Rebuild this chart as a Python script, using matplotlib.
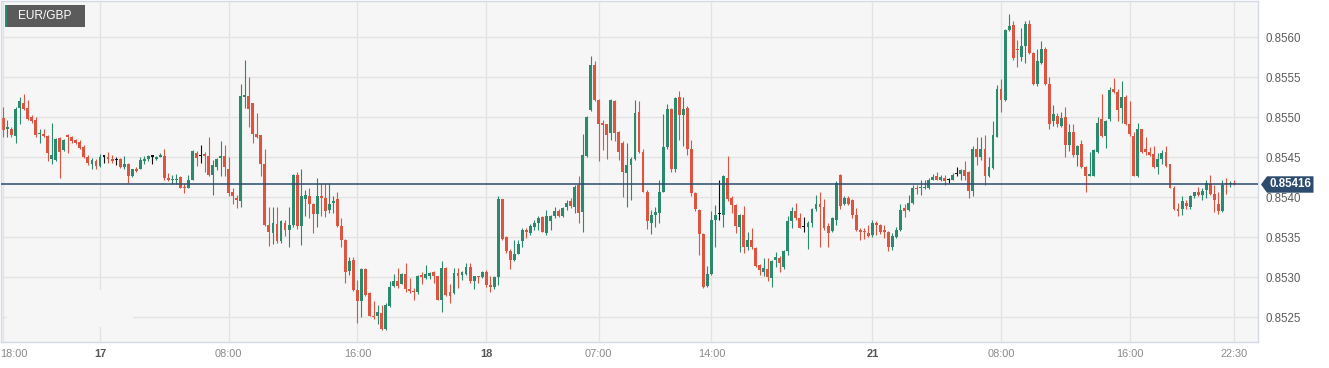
import numpy as np
import pandas as pd
import matplotlib
matplotlib.use('Agg')
import matplotlib.pyplot as plt
from matplotlib.patches import Rectangle, Polygon
from matplotlib.transforms import blended_transform_factory, ScaledTranslation

plt.rcParams['font.family'] = ['Liberation Sans', 'DejaVu Sans']

# 15 minute candles, weekend removed
times = pd.date_range('2023-08-16 17:45', '2023-08-18 23:45', freq='15min').append(
    pd.date_range('2023-08-21 00:00', '2023-08-21 22:30', freq='15min'))

opens = [
    0.85501, 0.85499, 0.85486, 0.85485, 0.85477, 0.85512, 0.85518, 0.85512, 0.85500, 0.85497, 0.85479, 0.85479, 0.85477, 0.85448, 0.85447, 0.85474,
    0.85459, 0.85477, 0.85476, 0.85472, 0.85469, 0.85463, 0.85451, 0.85442, 0.85446, 0.85439, 0.85451, 0.85450, 0.85448, 0.85447, 0.85448, 0.85438,
    0.85442, 0.85426, 0.85436, 0.85436, 0.85445, 0.85448, 0.85451, 0.85448, 0.85451, 0.85452, 0.85424, 0.85421, 0.85421, 0.85425, 0.85413, 0.85412,
    0.85422, 0.85456, 0.85452, 0.85454, 0.85452, 0.85428, 0.85438, 0.85449, 0.85452, 0.85435, 0.85407, 0.85399, 0.85395, 0.85526, 0.85527, 0.85518,
    0.85479, 0.85478, 0.85442, 0.85365, 0.85355, 0.85367, 0.85345, 0.85368, 0.85359, 0.85365, 0.85428, 0.85364, 0.85398, 0.85402, 0.85392, 0.85379,
    0.85402, 0.85399, 0.85384, 0.85393, 0.85398, 0.85364, 0.85347, 0.85308, 0.85321, 0.85284, 0.85270, 0.85310, 0.85280, 0.85252, 0.85251, 0.85255,
    0.85235, 0.85264, 0.85289, 0.85295, 0.85292, 0.85304, 0.85285, 0.85283, 0.85281, 0.85303, 0.85299, 0.85302, 0.85306, 0.85301, 0.85272, 0.85311,
    0.85281, 0.85280, 0.85305, 0.85303, 0.85304, 0.85313, 0.85295, 0.85302, 0.85300, 0.85307, 0.85290, 0.85288, 0.85300, 0.85398, 0.85350, 0.85333,
    0.85321, 0.85329, 0.85345, 0.85359, 0.85355, 0.85363, 0.85368, 0.85375, 0.85355, 0.85370, 0.85377, 0.85383, 0.85376, 0.85388, 0.85395, 0.85388,
    0.85415, 0.85381, 0.85452, 0.85509, 0.85565, 0.85522, 0.85493, 0.85492, 0.85481, 0.85520, 0.85482, 0.85468, 0.85430, 0.85440, 0.85448, 0.85507,
    0.85457, 0.85407, 0.85368, 0.85378, 0.85380, 0.85407, 0.85463, 0.85511, 0.85436, 0.85525, 0.85503, 0.85512, 0.85461, 0.85405, 0.85384, 0.85354,
    0.85289, 0.85304, 0.85371, 0.85379, 0.85378, 0.85424, 0.85399, 0.85390, 0.85363, 0.85378, 0.85338, 0.85346, 0.85336, 0.85315, 0.85306, 0.85310,
    0.85299, 0.85321, 0.85324, 0.85313, 0.85333, 0.85370, 0.85383, 0.85374, 0.85363, 0.85363, 0.85368, 0.85385, 0.85392, 0.85388, 0.85364, 0.85358,
    0.85372, 0.85428, 0.85392, 0.85399, 0.85396, 0.85378, 0.85359, 0.85358, 0.85355, 0.85353, 0.85368, 0.85365, 0.85359, 0.85356, 0.85338, 0.85350,
    0.85359, 0.85386, 0.85384, 0.85393, 0.85412, 0.85411, 0.85411, 0.85412, 0.85422, 0.85426, 0.85422, 0.85424, 0.85422, 0.85422, 0.85429, 0.85429,
    0.85434, 0.85432, 0.85408, 0.85461, 0.85451, 0.85461, 0.85426, 0.85437, 0.85476, 0.85535, 0.85522, 0.85609, 0.85615, 0.85585, 0.85576, 0.85589,
    0.85617, 0.85580, 0.85542, 0.85568, 0.85586, 0.85542, 0.85496, 0.85502, 0.85489, 0.85500, 0.85465, 0.85482, 0.85453, 0.85467, 0.85438, 0.85427,
    0.85427, 0.85457, 0.85498, 0.85477, 0.85498, 0.85535, 0.85532, 0.85512, 0.85525, 0.85492, 0.85477, 0.85426, 0.85485, 0.85461, 0.85457, 0.85454,
    0.85438, 0.85448, 0.85457, 0.85442, 0.85412, 0.85385, 0.85385, 0.85393, 0.85388, 0.85401, 0.85407, 0.85403, 0.85409, 0.85417, 0.85404, 0.85392,
    0.85383, 0.85418, 0.85417, 0.85418,
]
highs = [
    0.85512, 0.85513, 0.85497, 0.85488, 0.85513, 0.85526, 0.85529, 0.85522, 0.85503, 0.85501, 0.85486, 0.85485, 0.85478, 0.85493, 0.85474, 0.85476,
    0.85473, 0.85479, 0.85477, 0.85473, 0.85472, 0.85465, 0.85453, 0.85449, 0.85448, 0.85454, 0.85453, 0.85457, 0.85453, 0.85450, 0.85449, 0.85452,
    0.85443, 0.85436, 0.85438, 0.85450, 0.85452, 0.85453, 0.85453, 0.85452, 0.85456, 0.85460, 0.85430, 0.85428, 0.85429, 0.85426, 0.85418, 0.85428,
    0.85459, 0.85458, 0.85465, 0.85457, 0.85476, 0.85447, 0.85449, 0.85470, 0.85465, 0.85451, 0.85411, 0.85403, 0.85542, 0.85572, 0.85550, 0.85518,
    0.85505, 0.85478, 0.85460, 0.85388, 0.85388, 0.85388, 0.85371, 0.85372, 0.85388, 0.85429, 0.85432, 0.85435, 0.85409, 0.85411, 0.85393, 0.85424,
    0.85418, 0.85418, 0.85418, 0.85401, 0.85407, 0.85374, 0.85348, 0.85325, 0.85325, 0.85297, 0.85311, 0.85311, 0.85282, 0.85270, 0.85265, 0.85265,
    0.85268, 0.85295, 0.85304, 0.85311, 0.85305, 0.85318, 0.85299, 0.85286, 0.85303, 0.85306, 0.85315, 0.85306, 0.85308, 0.85302, 0.85320, 0.85313,
    0.85292, 0.85311, 0.85311, 0.85308, 0.85318, 0.85318, 0.85302, 0.85302, 0.85308, 0.85309, 0.85301, 0.85302, 0.85402, 0.85398, 0.85352, 0.85335,
    0.85346, 0.85346, 0.85361, 0.85361, 0.85367, 0.85372, 0.85376, 0.85377, 0.85384, 0.85378, 0.85388, 0.85385, 0.85388, 0.85396, 0.85399, 0.85415,
    0.85426, 0.85479, 0.85502, 0.85577, 0.85571, 0.85523, 0.85497, 0.85492, 0.85523, 0.85522, 0.85483, 0.85470, 0.85468, 0.85451, 0.85522, 0.85520,
    0.85461, 0.85409, 0.85384, 0.85388, 0.85422, 0.85504, 0.85517, 0.85512, 0.85525, 0.85533, 0.85526, 0.85514, 0.85472, 0.85407, 0.85385, 0.85355,
    0.85314, 0.85383, 0.85390, 0.85422, 0.85428, 0.85452, 0.85401, 0.85392, 0.85379, 0.85389, 0.85357, 0.85361, 0.85338, 0.85317, 0.85324, 0.85324,
    0.85322, 0.85332, 0.85326, 0.85334, 0.85377, 0.85388, 0.85393, 0.85380, 0.85375, 0.85370, 0.85386, 0.85403, 0.85406, 0.85398, 0.85368, 0.85375,
    0.85420, 0.85429, 0.85401, 0.85402, 0.85398, 0.85386, 0.85361, 0.85361, 0.85365, 0.85372, 0.85370, 0.85367, 0.85365, 0.85358, 0.85355, 0.85363,
    0.85392, 0.85392, 0.85403, 0.85415, 0.85415, 0.85422, 0.85422, 0.85424, 0.85429, 0.85432, 0.85428, 0.85428, 0.85424, 0.85430, 0.85438, 0.85436,
    0.85445, 0.85433, 0.85464, 0.85475, 0.85476, 0.85478, 0.85451, 0.85496, 0.85540, 0.85548, 0.85611, 0.85629, 0.85620, 0.85597, 0.85612, 0.85621,
    0.85622, 0.85582, 0.85586, 0.85595, 0.85588, 0.85551, 0.85515, 0.85505, 0.85507, 0.85513, 0.85492, 0.85492, 0.85465, 0.85472, 0.85439, 0.85457,
    0.85460, 0.85500, 0.85529, 0.85497, 0.85538, 0.85549, 0.85535, 0.85546, 0.85528, 0.85520, 0.85482, 0.85493, 0.85486, 0.85475, 0.85463, 0.85464,
    0.85456, 0.85459, 0.85464, 0.85442, 0.85414, 0.85393, 0.85402, 0.85397, 0.85403, 0.85407, 0.85413, 0.85412, 0.85422, 0.85428, 0.85415, 0.85406,
    0.85422, 0.85424, 0.85420, 0.85422,
]
lows = [
    0.85482, 0.85476, 0.85475, 0.85476, 0.85468, 0.85492, 0.85509, 0.85497, 0.85493, 0.85476, 0.85468, 0.85476, 0.85445, 0.85442, 0.85446, 0.85424,
    0.85458, 0.85455, 0.85468, 0.85467, 0.85461, 0.85449, 0.85441, 0.85436, 0.85436, 0.85438, 0.85443, 0.85443, 0.85443, 0.85440, 0.85437, 0.85436,
    0.85418, 0.85425, 0.85432, 0.85435, 0.85442, 0.85446, 0.85442, 0.85447, 0.85450, 0.85422, 0.85420, 0.85417, 0.85417, 0.85411, 0.85405, 0.85412,
    0.85421, 0.85439, 0.85443, 0.85432, 0.85427, 0.85403, 0.85434, 0.85427, 0.85426, 0.85401, 0.85392, 0.85387, 0.85388, 0.85512, 0.85488, 0.85468,
    0.85474, 0.85427, 0.85364, 0.85339, 0.85342, 0.85343, 0.85343, 0.85351, 0.85338, 0.85363, 0.85360, 0.85340, 0.85376, 0.85374, 0.85355, 0.85363,
    0.85376, 0.85375, 0.85380, 0.85380, 0.85363, 0.85338, 0.85293, 0.85303, 0.85283, 0.85243, 0.85250, 0.85276, 0.85251, 0.85248, 0.85242, 0.85234,
    0.85234, 0.85263, 0.85288, 0.85286, 0.85292, 0.85281, 0.85280, 0.85272, 0.85279, 0.85292, 0.85298, 0.85298, 0.85293, 0.85271, 0.85257, 0.85277,
    0.85268, 0.85279, 0.85286, 0.85297, 0.85303, 0.85293, 0.85285, 0.85293, 0.85299, 0.85288, 0.85281, 0.85285, 0.85290, 0.85347, 0.85330, 0.85310,
    0.85320, 0.85329, 0.85338, 0.85349, 0.85353, 0.85359, 0.85359, 0.85356, 0.85353, 0.85359, 0.85374, 0.85375, 0.85375, 0.85384, 0.85386, 0.85380,
    0.85368, 0.85357, 0.85451, 0.85508, 0.85520, 0.85445, 0.85459, 0.85448, 0.85472, 0.85471, 0.85447, 0.85400, 0.85388, 0.85397, 0.85447, 0.85456,
    0.85406, 0.85360, 0.85354, 0.85363, 0.85368, 0.85406, 0.85461, 0.85432, 0.85432, 0.85472, 0.85464, 0.85453, 0.85401, 0.85383, 0.85328, 0.85286,
    0.85288, 0.85303, 0.85338, 0.85372, 0.85363, 0.85395, 0.85380, 0.85355, 0.85331, 0.85330, 0.85334, 0.85335, 0.85313, 0.85303, 0.85302, 0.85295,
    0.85288, 0.85313, 0.85307, 0.85310, 0.85328, 0.85362, 0.85372, 0.85361, 0.85357, 0.85335, 0.85363, 0.85383, 0.85338, 0.85359, 0.85338, 0.85356,
    0.85365, 0.85385, 0.85390, 0.85390, 0.85374, 0.85358, 0.85346, 0.85348, 0.85350, 0.85350, 0.85353, 0.85354, 0.85349, 0.85333, 0.85334, 0.85349,
    0.85358, 0.85375, 0.85383, 0.85392, 0.85404, 0.85403, 0.85410, 0.85410, 0.85422, 0.85422, 0.85420, 0.85415, 0.85418, 0.85421, 0.85426, 0.85422,
    0.85422, 0.85399, 0.85401, 0.85440, 0.85447, 0.85415, 0.85425, 0.85435, 0.85475, 0.85507, 0.85521, 0.85608, 0.85572, 0.85563, 0.85570, 0.85568,
    0.85579, 0.85540, 0.85539, 0.85567, 0.85540, 0.85486, 0.85489, 0.85488, 0.85488, 0.85450, 0.85458, 0.85451, 0.85439, 0.85437, 0.85406, 0.85426,
    0.85426, 0.85456, 0.85476, 0.85462, 0.85496, 0.85530, 0.85495, 0.85493, 0.85491, 0.85477, 0.85426, 0.85425, 0.85456, 0.85453, 0.85452, 0.85437,
    0.85429, 0.85442, 0.85438, 0.85411, 0.85384, 0.85376, 0.85378, 0.85385, 0.85385, 0.85399, 0.85401, 0.85396, 0.85399, 0.85403, 0.85381, 0.85379,
    0.85382, 0.85404, 0.85413, 0.85415,
]
closes = [
    0.85486, 0.85484, 0.85488, 0.85478, 0.85511, 0.85520, 0.85510, 0.85498, 0.85495, 0.85478, 0.85481, 0.85477, 0.85456, 0.85453, 0.85473, 0.85457,
    0.85472, 0.85476, 0.85470, 0.85468, 0.85462, 0.85450, 0.85443, 0.85447, 0.85439, 0.85451, 0.85451, 0.85448, 0.85446, 0.85447, 0.85438, 0.85442,
    0.85426, 0.85435, 0.85433, 0.85447, 0.85448, 0.85452, 0.85451, 0.85451, 0.85453, 0.85424, 0.85421, 0.85422, 0.85422, 0.85412, 0.85411, 0.85422,
    0.85458, 0.85449, 0.85452, 0.85452, 0.85428, 0.85440, 0.85448, 0.85452, 0.85438, 0.85405, 0.85401, 0.85396, 0.85527, 0.85528, 0.85511, 0.85479,
    0.85476, 0.85442, 0.85365, 0.85356, 0.85368, 0.85345, 0.85370, 0.85359, 0.85365, 0.85428, 0.85364, 0.85402, 0.85403, 0.85392, 0.85379, 0.85402,
    0.85399, 0.85383, 0.85392, 0.85395, 0.85364, 0.85347, 0.85307, 0.85320, 0.85284, 0.85270, 0.85310, 0.85278, 0.85252, 0.85250, 0.85256, 0.85235,
    0.85265, 0.85288, 0.85295, 0.85289, 0.85304, 0.85285, 0.85283, 0.85281, 0.85302, 0.85300, 0.85304, 0.85305, 0.85301, 0.85272, 0.85311, 0.85278,
    0.85276, 0.85305, 0.85302, 0.85306, 0.85313, 0.85295, 0.85301, 0.85300, 0.85307, 0.85290, 0.85288, 0.85300, 0.85398, 0.85348, 0.85333, 0.85321,
    0.85329, 0.85342, 0.85359, 0.85356, 0.85364, 0.85368, 0.85374, 0.85357, 0.85376, 0.85377, 0.85383, 0.85377, 0.85386, 0.85393, 0.85389, 0.85413,
    0.85380, 0.85453, 0.85501, 0.85565, 0.85522, 0.85492, 0.85490, 0.85478, 0.85522, 0.85481, 0.85457, 0.85431, 0.85440, 0.85448, 0.85506, 0.85457,
    0.85407, 0.85370, 0.85378, 0.85381, 0.85407, 0.85463, 0.85510, 0.85436, 0.85524, 0.85503, 0.85511, 0.85461, 0.85405, 0.85385, 0.85354, 0.85288,
    0.85304, 0.85371, 0.85378, 0.85379, 0.85426, 0.85398, 0.85390, 0.85364, 0.85378, 0.85338, 0.85346, 0.85338, 0.85314, 0.85309, 0.85311, 0.85300,
    0.85320, 0.85325, 0.85318, 0.85333, 0.85370, 0.85383, 0.85374, 0.85362, 0.85363, 0.85368, 0.85385, 0.85392, 0.85388, 0.85361, 0.85355, 0.85374,
    0.85418, 0.85389, 0.85399, 0.85392, 0.85378, 0.85359, 0.85357, 0.85356, 0.85352, 0.85368, 0.85365, 0.85357, 0.85357, 0.85338, 0.85351, 0.85359,
    0.85384, 0.85383, 0.85393, 0.85412, 0.85410, 0.85412, 0.85412, 0.85422, 0.85425, 0.85422, 0.85425, 0.85420, 0.85422, 0.85428, 0.85429, 0.85434,
    0.85426, 0.85408, 0.85461, 0.85450, 0.85460, 0.85426, 0.85438, 0.85478, 0.85536, 0.85522, 0.85609, 0.85614, 0.85574, 0.85584, 0.85589, 0.85617,
    0.85580, 0.85542, 0.85570, 0.85586, 0.85542, 0.85492, 0.85504, 0.85492, 0.85499, 0.85465, 0.85482, 0.85453, 0.85464, 0.85438, 0.85426, 0.85429,
    0.85459, 0.85493, 0.85477, 0.85495, 0.85534, 0.85532, 0.85509, 0.85525, 0.85492, 0.85479, 0.85427, 0.85486, 0.85457, 0.85457, 0.85453, 0.85438,
    0.85448, 0.85456, 0.85439, 0.85412, 0.85385, 0.85383, 0.85395, 0.85389, 0.85402, 0.85406, 0.85403, 0.85408, 0.85418, 0.85404, 0.85396, 0.85383,
    0.85415, 0.85417, 0.85418, 0.85416,
]

last_price = 0.85416
price_ticks = [0.8525, 0.8530, 0.8535, 0.8540, 0.8545, 0.8550, 0.8555, 0.8560]
symbol = 'EUR/GBP'

# x ticks: time stamps shown on the axis
tick_times = ['2023-08-16 18:00', '2023-08-17 00:00', '2023-08-17 08:00', '2023-08-17 16:00',
              '2023-08-18 00:00', '2023-08-18 07:00', '2023-08-18 14:00', '2023-08-21 00:00',
              '2023-08-21 08:00', '2023-08-21 16:00', '2023-08-21 22:30']
tick_labels = ['18:00', '17', '08:00', '16:00', '18', '07:00', '14:00', '21', '08:00', '16:00', '22:30']

W, H = 1329, 368
fig = plt.figure(figsize=(W / 100, H / 100), dpi=100)
fig.patch.set_facecolor('white')
ax = fig.add_axes([1 / W, 26 / H, 1257 / W, 341 / H])
ax.set_facecolor('#f6f6f6')

o = np.array(opens)
h = np.array(highs)
l = np.array(lows)
c = np.array(closes)
x = np.arange(len(times))

green = '#2b8a6e'
red = '#dd5540'
colors = np.where(c > o, green, np.where(c < o, red, '#111111'))

ax.vlines(x, l, h, colors=colors, lw=0.8, zorder=2)
body_low = np.minimum(o, c)
body_h = np.maximum(np.abs(c - o), 0.000013)
ax.bar(x, body_h, bottom=body_low, width=0.72, color=colors, lw=0, zorder=2.1)

ax.set_xlim(0.39, 312.88)
ax.set_ylim(0.852191, 0.856454)

# grid
for p in price_ticks:
    ax.axhline(p, color='#e3e3e3', lw=1, zorder=0.5)
tick_pos = [times.get_loc(pd.Timestamp(t)) for t in tick_times]
for tp in tick_pos:
    ax.axvline(tp, color='#e3e3e3', lw=1, zorder=0.5)
# blank patch at lower left (covers grid like in the source)
ax.add_patch(Rectangle((6 / 1257, (342 - 327) / 341), 126 / 1257, 37 / 341,
                       transform=ax.transAxes, facecolor='#f6f6f6', edgecolor='none', zorder=0.6))

# last price line
ax.axhline(last_price, color='#2c4a6e', lw=1.1, zorder=3)

for s in ax.spines.values():
    s.set_color('#d4d9e6')
    s.set_linewidth(1)

ax.yaxis.tick_right()
ax.set_yticks(price_ticks)
ax.set_yticklabels([f'{p:.4f}' for p in price_ticks])
ax.tick_params(axis='y', length=0, pad=5.5, labelsize=8.3, labelcolor='#5c5c5c')

ax.set_xticks(tick_pos)
ax.set_xticklabels(tick_labels)
ax.tick_params(axis='x', length=0, pad=5, labelsize=7.9, labelcolor='#8a8a8a')
for lab in ax.get_xticklabels():
    if ':' not in lab.get_text():
        lab.set_fontweight('bold')
        lab.set_color('#555555')
first = ax.get_xticklabels()[0]
first.set_horizontalalignment('left')
first.set_transform(first.get_transform() + ScaledTranslation(-3 / 100, 0, fig.dpi_scale_trans))

# symbol badge
fig.patches.append(Rectangle((4.7 / W, 1 - 26.7 / H), 80.3 / W, 21.7 / H, transform=fig.transFigure,
                             facecolor='#5b5b5b', edgecolor='none', zorder=5))
fig.patches.append(Rectangle((4.7 / W, 1 - 26.7 / H), 2.7 / W, 21.7 / H, transform=fig.transFigure,
                             facecolor=green, edgecolor='none', zorder=6))
fig.text(45 / W, 1 - 16 / H, symbol, color='white', fontsize=8.6, ha='center', va='center', zorder=7)

# last price badge
tr = blended_transform_factory(fig.transFigure, ax.transData)
hh = 8.2 / 80000
badge = Polygon([(1261 / W, last_price), (1267 / W, last_price + hh), (1313.5 / W, last_price + hh),
                 (1313.5 / W, last_price - hh), (1267 / W, last_price - hh)],
                closed=True, transform=tr, facecolor='#2d4b6d', edgecolor='none', clip_on=False, zorder=6)
ax.add_patch(badge)
ax.text(1290 / W, last_price, f'{last_price:.5f}', transform=tr, color='white', fontsize=8.3,
        fontweight='bold', ha='center', va='center', clip_on=False, zorder=7)

fig.savefig('out.png', dpi=100, facecolor='white')
